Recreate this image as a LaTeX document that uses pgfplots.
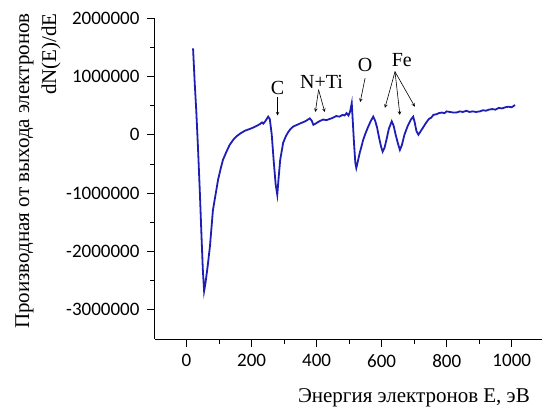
\documentclass[border=0pt]{standalone}
\usepackage{pgfplots}
\pgfplotsset{compat=1.18}
\usepackage{fontspec}
\setmainfont{Liberation Serif}
\newfontfamily\tickfont{Carlito}
\definecolor{curve}{RGB}{30,30,180}
\begin{document}
\begin{tikzpicture}
\path[use as bounding box] (0,0) rectangle (542pt,408pt);
\begin{axis}[
  at={(155pt,69pt)}, anchor=south west,
  scale only axis, width=387pt, height=321pt,
  xmin=-97, xmax=1093, ymin=-3500000, ymax=2000000,
  axis lines*=left,
  axis line style={line width=1pt},
  xtick={0,200,...,1000}, minor x tick num=1,
  xticklabels={0,200,400,600,800,1000},
  ytick={-3000000,-2000000,...,2000000}, minor y tick num=1,
  yticklabels={-3000000,-2000000,-1000000,0,1000000,2000000},
  scaled y ticks=false, scaled x ticks=false,
  tick align=outside,
  major tick length=8pt, minor tick length=5pt,
  tick style={line width=0.8pt, black},
  ticklabel style={font=\tickfont\fontsize{19}{20}\selectfont},
  yticklabel style={xshift=-4pt},
  xticklabel style={yshift=-4pt},
  clip=false,
]
\addplot[color=curve, line width=1.8pt] coordinates {
(20,1480000) (25,900000) (30,400000) (35,-200000) (41,-1000000) (46,-1740000)
(50,-2300000) (54,-2680000) (58,-2550000) (65,-2250000) (72,-1910000) (81,-1300000)
(90,-1000000) (97,-770000) (105,-580000) (112,-430000) (122,-300000) (132,-180000)
(143,-90000) (153,-30000) (165,20000) (180,70000) (195,100000) (204,120000)
(215,150000) (225,180000) (232,210000) (236,190000) (242,230000) (251,310000)
(256,270000) (262,0) (268,-450000) (274,-850000) (279,-1030000) (283,-750000)
(288,-430000) (297,-140000) (305,-30000) (312,40000) (320,100000) (328,140000)
(340,170000) (352,200000) (365,230000) (379,280000) (385,240000) (390,170000)
(397,190000) (405,220000) (412,240000) (420,260000) (430,250000) (440,270000)
(450,290000) (460,320000) (470,310000) (480,340000) (486,330000) (492,370000)
(498,330000) (503,400000) (508,540000) (511,250000) (515,-150000) (519,-480000)
(522,-570000) (527,-450000) (533,-300000) (538,-200000) (543,-90000) (550,20000)
(558,130000) (566,230000) (574,310000) (580,240000) (586,120000) (592,-50000)
(598,-200000) (603,-290000) (609,-220000) (615,-80000) (622,100000) (631,230000)
(637,150000) (643,0) (650,-150000) (656,-260000) (662,-180000) (670,0)
(680,150000) (690,260000) (697,310000) (702,200000) (707,60000) (713,0)
(720,60000) (728,130000) (736,200000) (745,270000) (752,290000) (759,340000)
(768,350000) (776,370000) (785,380000) (793,370000) (800,400000) (810,390000)
(820,380000) (830,380000) (840,400000) (850,390000) (860,410000) (870,390000)
(880,400000) (890,390000) (902,400000) (912,420000) (920,410000) (930,430000)
(940,440000) (950,430000) (960,460000) (970,450000) (980,470000) (990,480000)
(1000,470000) (1010,510000)
};
\begin{scope}[every node/.style={font=\fontsize{20}{22}\selectfont}]
\node at (axis cs:280,800000) {C};
\draw[-stealth, line width=0.6pt] (axis cs:280,650000) -- (axis cs:280,330000);
\node at (axis cs:415,910000) {N+Ti};
\draw[-stealth, line width=0.6pt] (axis cs:406,770000) -- (axis cs:396,390000);
\draw[-stealth, line width=0.6pt] (axis cs:406,770000) -- (axis cs:425,390000);
\node at (axis cs:549,1200000) {O};
\draw[-stealth, line width=0.6pt] (axis cs:549,970000) -- (axis cs:534,560000);
\node at (axis cs:662,1280000) {Fe};
\draw[-stealth, line width=0.6pt] (axis cs:641,1080000) -- (axis cs:610,460000);
\draw[-stealth, line width=0.6pt] (axis cs:641,1080000) -- (axis cs:656,340000);
\draw[-stealth, line width=0.6pt] (axis cs:641,1080000) -- (axis cs:702,480000);
\end{scope}
\end{axis}
\node[rotate=90, anchor=east, align=right, font=\fontsize{21}{27}\selectfont, inner sep=0pt]
  at (38pt,395pt) {Производная от выхода электронов\\dN(E)/dE};
\node[anchor=east, font=\fontsize{21}{24}\selectfont, inner sep=0pt]
  at (530pt,10pt) {Энергия электронов E, эВ};
\end{tikzpicture}
\end{document}
